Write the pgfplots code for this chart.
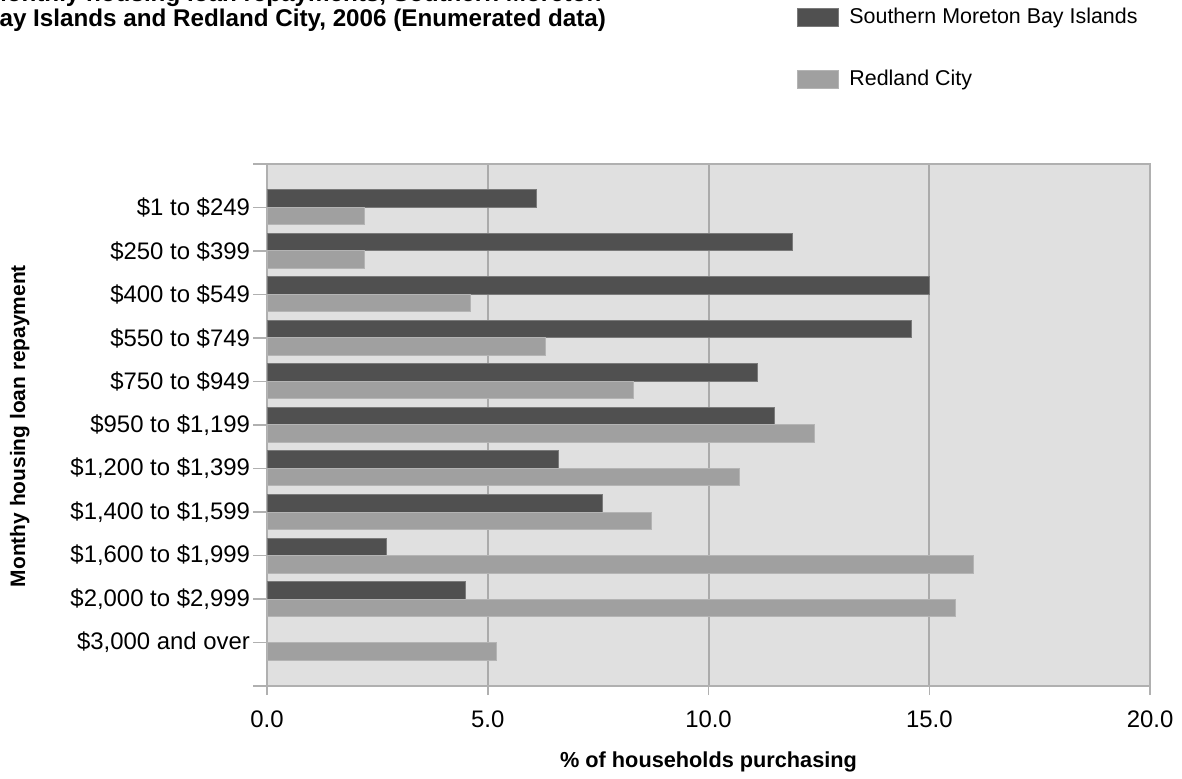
\documentclass[border=0pt]{standalone}
\usepackage{fontspec}
\setmainfont{Liberation Sans}
\usepackage{pgfplots}
\pgfplotsset{compat=1.18}

\definecolor{smbi}{HTML}{505050}
\definecolor{smbiedge}{HTML}{7A7A7A}
\definecolor{redland}{HTML}{A0A0A0}
\definecolor{redlandedge}{HTML}{B4B4B4}
\definecolor{plotbg}{HTML}{E0E0E0}
\definecolor{gridcol}{HTML}{ABABAB}
\definecolor{framecol}{HTML}{B0B0B0}

\newcommand{\ticksize}{\fontsize{12}{14}\selectfont}
\newcommand{\labsize}{\fontsize{10.5}{12}\selectfont\bfseries}

\begin{document}
\begin{tikzpicture}[x=0.5bp,y=0.5bp]
% chart title (two centred lines)
\node[anchor=base, inner sep=0pt, font=\fontsize{12.15}{14}\selectfont\bfseries]
  at (294,776) {Monthly housing loan repayments, Southern Moreton};
\node[anchor=base, inner sep=0pt, font=\fontsize{12.15}{14}\selectfont\bfseries]
  at (294,751) {Bay Islands and Redland City, 2006 (Enumerated data)};

\begin{axis}[
  at={(133.5bp,46bp)}, anchor=south west,
  scale only axis, width=441.5bp, height=261bp,
  xbar, bar width=8.75bp,
  xmin=0, xmax=20, ymin=0, ymax=12,
  y dir=reverse,
  xtick={0,5,10,15,20},
  /pgf/number format/fixed, /pgf/number format/fixed zerofill,
  /pgf/number format/precision=1, /pgf/number format/assume math mode=true,
  xticklabel style={font=\ticksize, yshift=-2bp},
  ytick={0,1,2,3,4,5,6,7,8,9,10,11,12},
  yticklabels={{},{\$1 to \$249},{\$250 to \$399},{\$400 to \$549},{\$550 to \$749},
               {\$750 to \$949},{\$950 to \$1,199},{\$1,200 to \$1,399},
               {\$1,400 to \$1,599},{\$1,600 to \$1,999},{\$2,000 to \$2,999},
               {\$3,000 and over},{}},
  yticklabel style={font=\ticksize, xshift=2bp},
  tick align=outside, tick pos=left,
  major tick length=7bp,
  xtick style={draw=framecol, line width=0.75bp, /pgfplots/major tick length=4.5bp},
  ytick style={draw=framecol, line width=0.75bp},
  xmajorgrids, major grid style={draw=gridcol, line width=1bp},
  axis line style={draw=framecol, line width=0.75bp},
  axis background/.style={fill=plotbg},
  xlabel={\% of households purchasing},
  xlabel style={font=\fontsize{10.9}{12}\selectfont\bfseries,
                at={(axis description cs:0.5,-0.146)}, anchor=center},
  ylabel={Monthy housing loan repayment},
  ylabel style={font=\labsize, at={(axis description cs:-0.28,0.498)}, anchor=center, rotate=0},
  legend style={at={(axis description cs:0.6002,1.300)}, anchor=north west,
                draw=none, fill=none, inner sep=0pt, row sep=21.5bp,
                font=\fontsize{10.75}{12}\selectfont,
                nodes={inner sep=0pt, anchor=west},
                /tikz/every odd column/.append style={column sep=5bp}},
  legend cell align=left,
  legend image code/.code={\fill[#1] (0bp,-4.5bp) rectangle (20.5bp,4.5bp);},
]
\addplot[fill=smbi, draw=smbiedge, line width=0.5bp, bar shift=4.375bp] coordinates {
  (6.1,1) (11.9,2) (15.0,3) (14.6,4) (11.1,5) (11.5,6)
  (6.6,7) (7.6,8) (2.7,9) (4.5,10)
};
\addlegendentry{Southern Moreton Bay Islands}
\addplot[fill=redland, draw=redlandedge, line width=0.5bp, bar shift=-4.375bp] coordinates {
  (2.2,1) (2.2,2) (4.6,3) (6.3,4) (8.3,5) (12.4,6)
  (10.7,7) (8.7,8) (16.0,9) (15.6,10) (5.2,11)
};
\addlegendentry{Redland City}
\end{axis}

\pgfresetboundingbox
\path[use as bounding box] (0,0) rectangle (1182,778);
\end{tikzpicture}
\end{document}
